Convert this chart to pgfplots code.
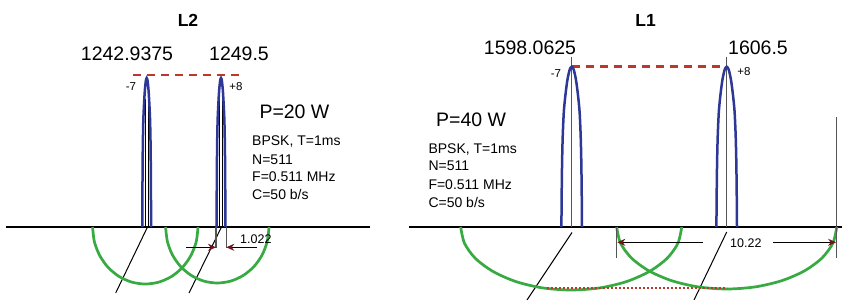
\documentclass[border=0pt]{standalone}
\usepackage{pgfplots}
\pgfplotsset{compat=1.18}
\usepackage{fontspec}
\setmainfont{Liberation Sans}
\usetikzlibrary{arrows.meta}
\definecolor{lobeblue}{RGB}{45,55,150}
\definecolor{arcgreen}{RGB}{55,170,65}
\definecolor{dashred}{RGB}{190,55,45}
\definecolor{tipred}{RGB}{110,20,30}
\definecolor{linegray}{RGB}{85,85,85}
\definecolor{txt}{RGB}{25,25,25}
\newcommand\fs[1]{\fontsize{#1bp}{#1bp}\selectfont}
\begin{document}
\begin{tikzpicture}
\begin{axis}[
  width=842bp, height=300bp, scale only axis,
  xmin=0, xmax=842, ymin=0, ymax=300, y dir=reverse,
  hide axis, clip=false, no markers,
  every node/.style={text=txt},
]
% ---------------- baselines ----------------
\addplot[black, line width=2.6bp] coordinates {(6,227) (370,227)};
\addplot[black, line width=2.6bp] coordinates {(409,227) (842,227)};

% ---------------- left panel (L2) ----------------
\addplot[dashred, line width=2.5bp, dash pattern=on 8bp off 6bp] coordinates {(133,75) (243,75)};
\addplot[black, line width=1bp] coordinates {(145.6,99) (145.6,227)};
\addplot[black, line width=1bp] coordinates {(148.2,99) (148.2,227)};
\addplot[black, line width=1bp] coordinates {(219.4,99) (219.4,227)};
\addplot[black, line width=1bp] coordinates {(222.2,99) (222.2,227)};
\addplot[lobeblue, line width=2.5bp, smooth] coordinates {(142.3,227) (142.43,194) (142.6,166.4) (142.86,143.1) (143.28,121.7) (143.71,110.6) (144.14,102.2) (144.56,94.7) (144.99,88.7) (145.85,80.7) (146.7,78) (147.55,80.7) (148.41,88.7) (148.84,94.7) (149.26,102.2) (149.69,110.6) (150.12,121.7) (150.54,143.1) (150.8,166.4) (150.97,194) (151.1,227)};
\addplot[lobeblue, line width=2.5bp, smooth] coordinates {(216.6,227) (216.73,194) (216.9,166.4) (217.16,143.1) (217.58,121.7) (218.01,110.6) (218.44,102.2) (218.86,94.7) (219.29,88.7) (220.15,80.7) (221,78) (221.85,80.7) (222.71,88.7) (223.14,94.7) (223.56,102.2) (223.99,110.6) (224.42,121.7) (224.84,143.1) (225.1,166.4) (225.27,194) (225.4,227)};
\addplot[black, line width=1bp] coordinates {(147.5,227) (115.7,293)};
\addplot[black, line width=1bp] coordinates {(221.5,227) (189,293)};
\addplot[arcgreen, line width=2.7bp, smooth] coordinates {(92.6,227) (94.4,241.8) (99.7,255.5) (108.0,267.3) (118.95,276.4) (131.7,282.1) (145.3,284) (158.9,282.1) (171.65,276.4) (182.6,267.3) (190.9,255.5) (196.2,241.8) (198.0,227)};
\addplot[arcgreen, line width=2.7bp, smooth] coordinates {(165.6,227) (167.4,241.5) (172.5,255) (180.7,266.6) (191.45,275.5) (203.9,281.1) (217.3,283) (230.7,281.1) (243.15,275.5) (253.9,266.6) (262.1,255) (267.2,241.5) (269,227)};
\addplot[linegray, line width=1.1bp] coordinates {(216,227) (216,248)};
\addplot[linegray, line width=1.1bp] coordinates {(226.3,227) (226.3,248)};
\addplot[black, line width=1bp, -{Stealth[length=8bp,width=7bp,color=tipred]}] coordinates {(186,247.3) (216,247.3)};
\addplot[black, line width=1bp, -{Stealth[length=8bp,width=7bp,color=tipred]}] coordinates {(256.7,247.3) (226.3,247.3)};

\node[anchor=base, font=\fs{17.5}\bfseries] at (axis cs:188,26.7) {L2};
\node[anchor=base, font=\fs{19.5}] at (axis cs:127,60) {1242.9375};
\node[anchor=base, font=\fs{19.5}] at (axis cs:239,60) {1249.5};
\node[anchor=base, font=\fs{11.5}] at (axis cs:131,90.7) {-7};
\node[anchor=base, font=\fs{11.5}] at (axis cs:236,90.7) {+8};
\node[anchor=base west, inner sep=0pt, font=\fs{19.5}] at (axis cs:259.3,118.3) {P=20 W};
\node[anchor=base west, inner sep=0pt, font=\fs{14}] at (axis cs:252,145.7) {BPSK, T=1ms};
\node[anchor=base west, inner sep=0pt, font=\fs{14}] at (axis cs:252,164) {N=511};
\node[anchor=base west, inner sep=0pt, font=\fs{14}] at (axis cs:252,181.7) {F=0.511 MHz};
\node[anchor=base west, inner sep=0pt, font=\fs{14}] at (axis cs:252,199.3) {C=50 b/s};
\node[anchor=base west, inner sep=0pt, font=\fs{12.5}] at (axis cs:240,243.3) {1.022};

% ---------------- right panel (L1) ----------------
\addplot[dashred, line width=2.5bp, dash pattern=on 8bp off 6bp] coordinates {(571.7,66.7) (726.7,66.7)};
\addplot[linegray, line width=1.2bp] coordinates {(571.7,56.7) (571.7,227)};
\addplot[linegray, line width=1.2bp] coordinates {(726.7,56.7) (726.7,227)};
\addplot[lobeblue, line width=2.5bp, smooth] coordinates {(561.4,227) (561.7,191.7) (562.1,161.7) (562.7,136.7) (563.7,113.7) (564.7,101.7) (565.7,92.7) (566.7,84.7) (567.7,78.2) (569.7,69.6) (571.7,66.7) (573.7,69.6) (575.7,78.2) (576.7,84.7) (577.7,92.7) (578.7,101.7) (579.7,113.7) (580.7,136.7) (581.3,161.7) (581.7,191.7) (582.0,227)};
\addplot[lobeblue, line width=2.5bp, smooth] coordinates {(716.4,227) (716.7,191.7) (717.1,161.7) (717.7,136.7) (718.7,113.7) (719.7,101.7) (720.7,92.7) (721.7,84.7) (722.7,78.2) (724.7,69.6) (726.7,66.7) (728.7,69.6) (730.7,78.2) (731.7,84.7) (732.7,92.7) (733.7,101.7) (734.7,113.7) (735.7,136.7) (736.3,161.7) (736.7,191.7) (737.0,227)};
\addplot[black, line width=1bp] coordinates {(572,232.5) (527,300)};
\addplot[black, line width=1bp] coordinates {(726.7,232) (694,300)};
\addplot[arcgreen, line width=2.7bp, smooth] coordinates {(460.7,227) (464.5,243.3) (475.5,258.5) (493.1,271.5) (515.95,281.6) (542.6,287.9) (571.2,290) (599.8,287.9) (626.45,281.6) (649.3,271.5) (666.9,258.5) (677.9,243.3) (681.7,227)};
\addplot[arcgreen, line width=2.7bp, smooth] coordinates {(616.7,227) (620.45,243.05) (631.44,258) (648.92,270.84) (671.7,280.69) (698.23,286.89) (726.7,289) (755.17,286.89) (781.7,280.69) (804.48,270.84) (821.96,258) (832.95,243.05) (836.7,227)};
\addplot[dashred, line width=2bp, dash pattern=on 2bp off 2bp] coordinates {(546.7,287.7) (726.7,287.7)};
\addplot[linegray, line width=1.2bp] coordinates {(616.7,227) (616.7,258)};
\addplot[linegray, line width=1.2bp] coordinates {(836.7,117) (836.7,258)};
\addplot[black, line width=1bp, -{Stealth[length=8bp,width=7bp,color=tipred]}] coordinates {(702.7,242.3) (617.3,242.3)};
\addplot[black, line width=1bp, -{Stealth[length=8bp,width=7bp,color=tipred]}] coordinates {(773,242.3) (836.1,242.3)};

\node[anchor=base, font=\fs{17.5}\bfseries] at (axis cs:645.7,26.7) {L1};
\node[anchor=base, font=\fs{19.5}] at (axis cs:530,54.5) {1598.0625};
\node[anchor=base, font=\fs{19.5}] at (axis cs:758,54.5) {1606.5};
\node[anchor=base, font=\fs{11.5}] at (axis cs:556,77.3) {-7};
\node[anchor=base, font=\fs{11.5}] at (axis cs:744,75) {+8};
\node[anchor=base west, inner sep=0pt, font=\fs{19.5}] at (axis cs:436,126.7) {P=40 W};
\node[anchor=base west, inner sep=0pt, font=\fs{14}] at (axis cs:428.3,153.3) {BPSK, T=1ms};
\node[anchor=base west, inner sep=0pt, font=\fs{14}] at (axis cs:428.3,170.7) {N=511};
\node[anchor=base west, inner sep=0pt, font=\fs{14}] at (axis cs:428.3,189) {F=0.511 MHz};
\node[anchor=base west, inner sep=0pt, font=\fs{14}] at (axis cs:428.3,207.3) {C=50 b/s};
\node[anchor=base west, inner sep=0pt, font=\fs{12.5}] at (axis cs:730,247.3) {10.22};
\end{axis}
\pgfresetboundingbox
\useasboundingbox (current axis.south west) rectangle (current axis.north east);
\end{tikzpicture}
\end{document}
